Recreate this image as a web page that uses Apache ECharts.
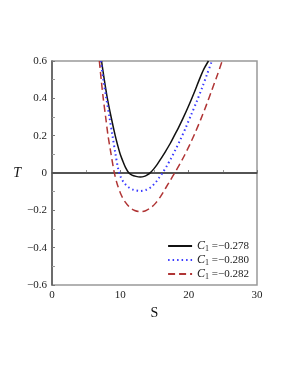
<!DOCTYPE html>
<html><head><meta charset="utf-8">
<script src="https://cdn.jsdelivr.net/npm/echarts@6/dist/echarts.min.js"></script>
<style>html,body{margin:0;padding:0;background:#fff}#c{width:283px;height:366px}</style>
</head><body><div id="c"></div>
<script>
const xTicks = [0, 10, 20, 30];
const yTicks = [-0.6, -0.4, -0.2, 0, 0.2, 0.4, 0.6];
const seriesNames = ['−0.278', '−0.280', '−0.282'];
const black = [[7.25,0.6],[7.65,0.5],[8.1,0.4],[8.65,0.3],[9.25,0.2],[9.6,0.15],[9.95,0.105],[10.35,0.065],[10.75,0.03],[11.2,0.003],[11.7,-0.011],[12.3,-0.018],[12.9,-0.021],[13.5,-0.018],[13.95,-0.01],[14.4,0.002],[14.9,0.022],[15.4,0.046],[16.0,0.08],[16.6,0.115],[17.3,0.158],[17.9,0.2],[18.5,0.242],[19.2,0.295],[20.0,0.36],[20.8,0.43],[21.5,0.495],[22.2,0.555],[22.9,0.6]];
const blue = [[7.15,0.6],[7.5,0.5],[7.95,0.4],[8.4,0.3],[8.85,0.2],[9.25,0.11],[9.7,0.02],[10.1,-0.025],[10.6,-0.055],[11.2,-0.076],[11.9,-0.09],[12.9,-0.096],[13.8,-0.09],[14.5,-0.075],[15.1,-0.053],[15.7,-0.024],[16.2,0.002],[16.8,0.038],[17.4,0.077],[18.0,0.12],[18.8,0.18],[19.6,0.245],[20.4,0.315],[21.2,0.385],[22.0,0.46],[22.7,0.53],[23.4,0.6]];
const red = [[6.93,0.6],[7.2,0.5],[7.5,0.4],[7.85,0.3],[8.2,0.2],[8.65,0.1],[9.1,0.005],[9.55,-0.06],[10.1,-0.115],[10.7,-0.155],[11.4,-0.185],[12.1,-0.201],[12.9,-0.207],[13.7,-0.202],[14.5,-0.185],[15.2,-0.16],[15.9,-0.125],[16.6,-0.083],[17.3,-0.04],[18.0,0.003],[18.7,0.047],[19.4,0.095],[20.2,0.155],[21.0,0.22],[21.8,0.29],[22.6,0.365],[23.4,0.445],[24.2,0.525],[24.9,0.6]];
const zeroLine = [[0,0],[30,0]];

const chart = echarts.init(document.getElementById('c'));
const font = 'Liberation Serif';
chart.setOption({
  animation: false,
  grid: {left: 52, right: 26, top: 61, bottom: 81, show: true, borderColor: '#999', borderWidth: 1.5},
  xAxis: {type: 'value', min: 0, max: 30, interval: 10, name: 'S', nameLocation: 'middle', nameGap: 15,
    nameTextStyle: {fontFamily: font, fontSize: 14, color: '#111'},
    axisLine: {show: true, lineStyle: {color: '#555', width: 1.5}},
    axisTick: {inside: true, length: 3, lineStyle: {color: '#777'}},
    minorTick: {show: true, splitNumber: 2, length: 3, lineStyle: {color: '#999'}},
    splitLine: {show: false},
    axisLabel: {fontFamily: font, fontSize: 11, color: '#222', margin: 5, formatter: v => xTicks.includes(v) ? String(v) : ''}},
  yAxis: {type: 'value', min: -0.6, max: 0.6, interval: 0.2, name: 'T', nameLocation: 'middle', nameGap: 29, nameRotate: 0,
    nameTextStyle: {fontFamily: font, fontSize: 14, fontStyle: 'italic', color: '#111'},
    axisLine: {show: true, lineStyle: {color: '#555', width: 1.5}},
    axisTick: {inside: true, length: 3, lineStyle: {color: '#777'}},
    minorTick: {show: true, splitNumber: 2, length: 3, lineStyle: {color: '#999'}},
    splitLine: {show: false},
    axisLabel: {fontFamily: font, fontSize: 11, color: '#222', margin: 5,
      formatter: v => { const t = yTicks.find(y => Math.abs(y - v) < 1e-9); if (t === undefined) return ''; if (Math.abs(t) < 1e-9) return '0'; return (t < 0 ? '−' : '') + Math.abs(t).toFixed(1); }}},
  legend: {orient: 'vertical', right: 29, top: 235, itemWidth: 24, itemHeight: 8, itemGap: 1,
    itemStyle: {opacity: 0},
    data: seriesNames.map(n => 'C1 = ' + n),
    formatter: n => '{i|C}{s|1}{t| =' + n.split('= ')[1] + '}',
    textStyle: {fontFamily: font, fontSize: 11, color: '#222',
      rich: {i: {fontFamily: font, fontStyle: 'italic', fontSize: 12}, s: {fontFamily: font, fontSize: 8, verticalAlign: 'bottom', padding: [6,0,0,0]}, t: {fontFamily: font, fontSize: 11}}}},
  series: [
    {type: 'line', data: zeroLine, symbol: 'none', lineStyle: {color: '#444', width: 1.3}, silent: true, z: 1},
    {name: 'C1 = ' + seriesNames[0], type: 'line', data: black, smooth: 0.3, symbol: 'none', clip: true, lineStyle: {color: '#111', width: 1.5}},
    {name: 'C1 = ' + seriesNames[1], type: 'line', data: blue, smooth: 0.3, symbol: 'none', clip: true, lineStyle: {color: '#3a3aff', width: 2, type: [1.5, 3]}},
    {name: 'C1 = ' + seriesNames[2], type: 'line', data: red, smooth: 0.3, symbol: 'none', clip: true, lineStyle: {color: '#b03535', width: 1.5, type: [7, 4]}}
  ]
});
</script></body></html>
